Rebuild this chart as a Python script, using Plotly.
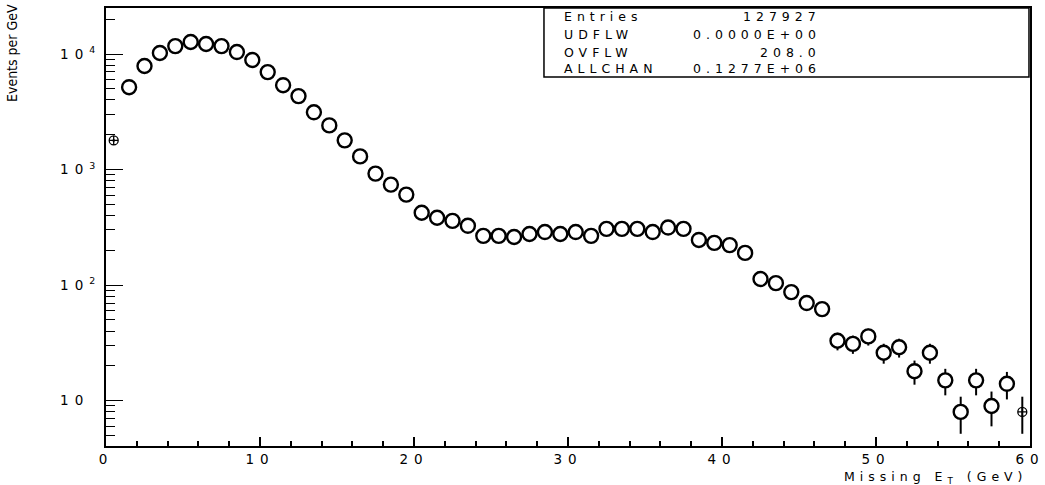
import numpy as np
import plotly.graph_objects as go

# ---- data ----
bin_centers = [i + 0.5 for i in range(60)]
events = [
    1786, 5160, 7870, 10200, 11700, 12700, 12200, 11700, 10400, 8870,
    6970, 5370, 4320, 3130, 2410, 1790, 1300, 923, 741, 607,
    423, 383, 360, 326, 267, 267, 261, 277, 288, 277,
    288, 267, 307, 307, 307, 288, 315, 307, 246, 232,
    222, 190, 113, 104, 87, 70, 62, 33, 31, 36,
    26, 29, 18, 26, 15, 8, 15, 9, 14, 8,
]
errors = list(np.sqrt(np.array(events, dtype=float)))

x_tick_vals = [0, 10, 20, 30, 40, 50, 60]
x_tick_text = ["0", "10", "20", "30", "40", "50", "60"]
y_tick_vals = [10, 100, 1000, 10000]
y_tick_text = ["10<sup>\u2007</sup>", "10<sup>2</sup>", "10<sup>3</sup>", "10<sup>4</sup>"]

stat_labels = ["Entries", "UDFLW", "OVFLW", "ALLCHAN"]
stat_values = ["127927", "0.0000E+00", "208.0", "0.1277E+06"]

x_title = "Missing E<sub>T</sub> (GeV)"
y_title = "Events per GeV"

# ---- styling helpers ----
FONT = "DejaVu Sans"
FS = 12.5
TFS = 13.5
SP = "letter-spacing:5px"
TSP = "letter-spacing:6px"


def spaced(t, sp=SP):
    return '<span style="%s">%s</span>' % (sp, t)


n = len(events)
inner = list(range(1, n - 1))
edge = [0, n - 1]

fig = go.Figure()
# error bars (drawn first, underneath the markers)
fig.add_trace(go.Scatter(
    x=bin_centers, y=events, mode="markers",
    error_y=dict(type="data", array=errors, visible=True,
                 color="black", thickness=2, width=0),
    marker=dict(size=1, color="rgba(0,0,0,0)"),
    showlegend=False, hoverinfo="skip",
))
# white-filled ring markers on top
fig.add_trace(go.Scatter(
    x=[bin_centers[i] for i in inner], y=[events[i] for i in inner],
    mode="markers",
    marker=dict(symbol="circle", size=14, color="white", opacity=1,
                line=dict(color="black", width=2.4)),
    showlegend=False,
))
# first and last bin: small crossed circles
fig.add_trace(go.Scatter(
    x=[bin_centers[i] for i in edge], y=[events[i] for i in edge],
    mode="markers",
    marker=dict(symbol="circle-cross-open", size=9, color="black",
                line=dict(width=1.3)),
    showlegend=False,
))

# minor tick positions on the log axis
y_minor = [m * 10 ** k for k in range(0, 5) for m in range(2, 10)]

fig.update_layout(
    width=1045, height=485,
    margin=dict(l=106, r=15, t=8, b=39),
    paper_bgcolor="white", plot_bgcolor="white",
    font=dict(family=FONT, size=FS, color="black"),
    xaxis=dict(
        range=[0, 60], showgrid=False, zeroline=False, automargin=False,
        showline=True, mirror=True, linecolor="black", linewidth=2,
        ticks="inside", ticklen=9, tickwidth=1.5, tickcolor="black",
        tickvals=x_tick_vals,
        ticktext=[spaced(t, TSP) for t in x_tick_text],
        tickfont=dict(family=FONT, size=TFS),
        minor=dict(ticks="inside", ticklen=5, tickwidth=1.5,
                   tickcolor="black", dtick=2, showgrid=False),
    ),
    yaxis=dict(
        type="log", range=[0.608, 4.398], showgrid=False, zeroline=False,
        automargin=False,
        showline=True, mirror=True, linecolor="black", linewidth=2,
        ticks="inside", ticklen=17, tickwidth=1.3, tickcolor="black",
        tickvals=y_tick_vals,
        ticktext=[spaced(t, TSP) for t in y_tick_text],
        tickfont=dict(family=FONT, size=TFS),
        minor=dict(ticks="inside", ticklen=9, tickwidth=1.3,
                   tickcolor="black", tickvals=y_minor, showgrid=False),
    ),
)

# statistics box
fig.add_shape(type="rect", xref="paper", yref="paper",
              x0=0.474, x1=0.9989, y0=0.8425, y1=1.0,
              line=dict(color="black", width=1.5), fillcolor="white",
              layer="above")
row_y = [0.9795, 0.9406, 0.8995, 0.863]
for lab, val, yy in zip(stat_labels, stat_values, row_y):
    fig.add_annotation(text=spaced(lab), xref="paper", yref="paper",
                       x=0.4935, y=yy, xanchor="left", yanchor="middle",
                       showarrow=False, font=dict(family=FONT, size=FS))
    fig.add_annotation(text=spaced(val), xref="paper", yref="paper",
                       x=0.7755, y=yy, xanchor="right", yanchor="middle",
                       showarrow=False, font=dict(family=FONT, size=FS))

# axis titles
fig.add_annotation(text=spaced(x_title), xref="paper", yref="paper",
                   x=1.0, y=-0.0708, xanchor="right", yanchor="middle",
                   showarrow=False, font=dict(family=FONT, size=FS))
fig.add_annotation(text=y_title, xref="paper", yref="paper",
                   x=-0.1017, y=1.0137, xanchor="center", yanchor="top",
                   textangle=-90, showarrow=False,
                   font=dict(family="Liberation Sans Narrow, DejaVu Sans Condensed", size=14))

fig.write_html("out.html", config={"displayModeBar": False},
               post_script="document.body.style.margin='0px';")
